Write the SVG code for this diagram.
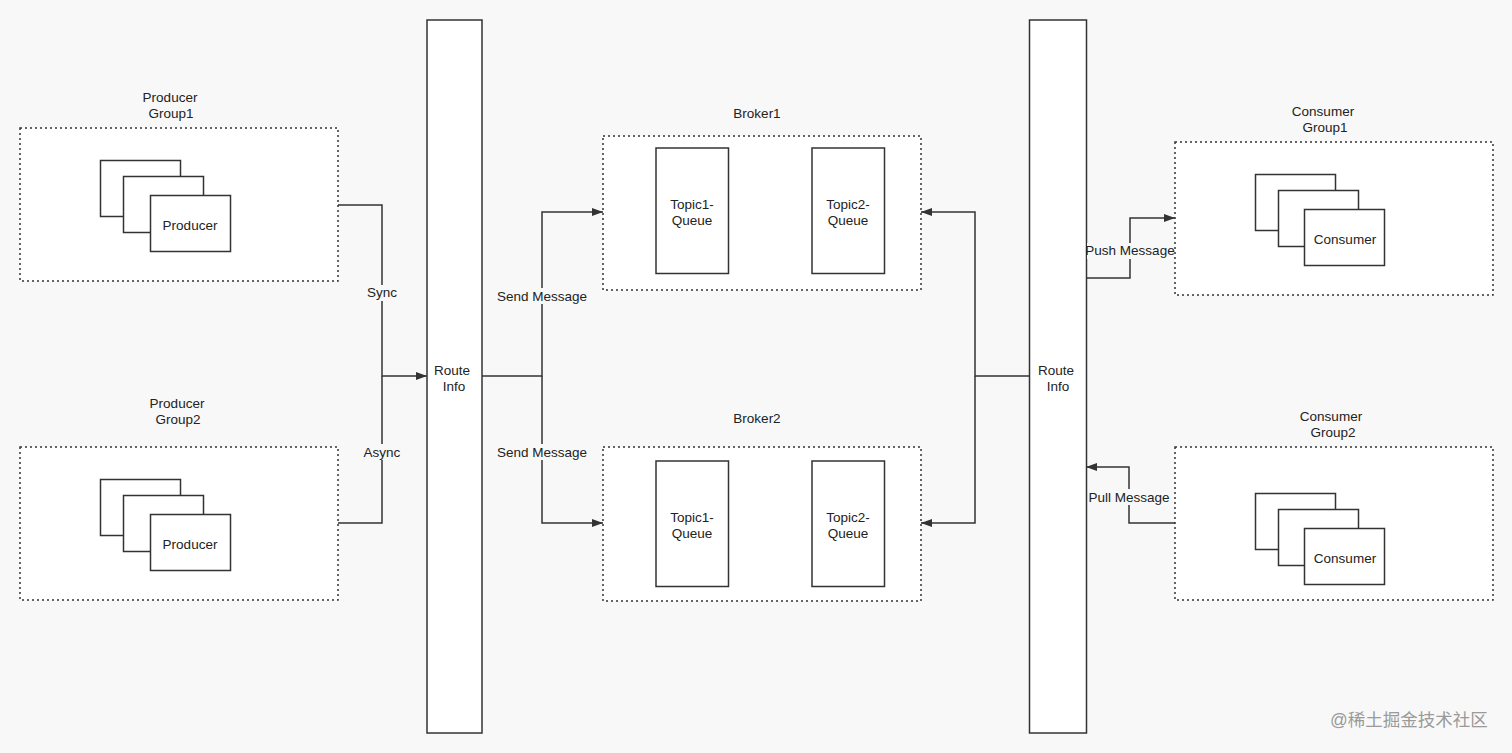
<svg xmlns="http://www.w3.org/2000/svg" width="1512" height="753" viewBox="0 0 1512 753">
<defs>
<marker id="arr" viewBox="0 0 11 8" refX="11" refY="4" markerWidth="11" markerHeight="8" markerUnits="userSpaceOnUse" orient="auto">
<path d="M0,0 L11,4 L0,8 Z" fill="#333"/>
</marker>
<style>
text{font-family:"Liberation Sans",Arial,Helvetica,sans-serif;font-size:13.5px;fill:#222;text-anchor:middle}
.grp{fill:#fff;stroke:#333;stroke-width:1.5;stroke-dasharray:2 3}
.box{fill:#fff;stroke:#333;stroke-width:1.5}
.ln{fill:none;stroke:#333;stroke-width:1.5}
.lbg{fill:#f8f8f8}
.wm{fill:#9a9a9a;font-size:17.5px;font-family:"Liberation Sans","Noto Sans CJK SC",sans-serif;text-anchor:start}
</style>
</defs>
<rect width="1512" height="753" fill="#f8f8f8"/>

<g id="producer-group1">
<rect class="grp" x="20" y="128" width="318" height="153"/>
<text x="170" y="102">Producer</text>
<text x="171" y="118">Group1</text>
<rect class="box" x="100.5" y="160.5" width="80" height="56"/>
<rect class="box" x="123.5" y="176.5" width="80" height="56"/>
<rect class="box" x="150.5" y="195.5" width="80" height="56"/>
<text x="190" y="230">Producer</text>
</g>

<g id="producer-group2">
<rect class="grp" x="20" y="447" width="318" height="153"/>
<text x="177" y="408">Producer</text>
<text x="178" y="424">Group2</text>
<rect class="box" x="100.5" y="479.5" width="80" height="56"/>
<rect class="box" x="123.5" y="495.5" width="80" height="56"/>
<rect class="box" x="150.5" y="514.5" width="80" height="56"/>
<text x="190" y="549">Producer</text>
</g>

<g id="route-info-1">
<rect class="box" x="427" y="20" width="55" height="713"/>
<text x="452" y="375">Route</text>
<text x="454" y="391">Info</text>
</g>

<g id="route-info-2">
<rect class="box" x="1029.5" y="20" width="57" height="713"/>
<text x="1056" y="375">Route</text>
<text x="1058" y="391">Info</text>
</g>

<g id="broker1">
<rect class="grp" x="603" y="136" width="318" height="154"/>
<text x="757" y="118">Broker1</text>
<rect class="box" x="656" y="148" width="72.5" height="125.5"/>
<text x="692" y="209">Topic1-</text>
<text x="692" y="225">Queue</text>
<rect class="box" x="812" y="148" width="72.5" height="125.5"/>
<text x="848" y="209">Topic2-</text>
<text x="848" y="225">Queue</text>
</g>

<g id="broker2">
<rect class="grp" x="603" y="447" width="318" height="154"/>
<text x="757" y="423">Broker2</text>
<rect class="box" x="656" y="461" width="72.5" height="125.5"/>
<text x="692" y="522">Topic1-</text>
<text x="692" y="538">Queue</text>
<rect class="box" x="812" y="461" width="72.5" height="125.5"/>
<text x="848" y="522">Topic2-</text>
<text x="848" y="538">Queue</text>
</g>

<g id="consumer-group1">
<rect class="grp" x="1175" y="142" width="318" height="153"/>
<text x="1323" y="116">Consumer</text>
<text x="1325" y="132">Group1</text>
<rect class="box" x="1255.5" y="174.5" width="80" height="56"/>
<rect class="box" x="1278.5" y="190.5" width="80" height="56"/>
<rect class="box" x="1304.5" y="209.5" width="80" height="56"/>
<text x="1345" y="244">Consumer</text>
</g>

<g id="consumer-group2">
<rect class="grp" x="1175" y="447" width="318" height="153"/>
<text x="1331" y="421">Consumer</text>
<text x="1333" y="437">Group2</text>
<rect class="box" x="1255.5" y="493.5" width="80" height="56"/>
<rect class="box" x="1278.5" y="509.5" width="80" height="56"/>
<rect class="box" x="1304.5" y="528.5" width="80" height="56"/>
<text x="1345" y="563">Consumer</text>
</g>

<g id="connectors">
<path class="ln" d="M338,205 H382 V376 H427" marker-end="url(#arr)"/>
<path class="ln" d="M338,523 H382 V376"/>
<path class="ln" d="M482,376 H542 V212 H603" marker-end="url(#arr)"/>
<path class="ln" d="M542,376 V523 H603" marker-end="url(#arr)"/>
<path class="ln" d="M1029,376 H975 V212 H921" marker-end="url(#arr)"/>
<path class="ln" d="M975,376 V523 H921" marker-end="url(#arr)"/>
<path class="ln" d="M1086,278 H1130 V218 H1175" marker-end="url(#arr)"/>
<path class="ln" d="M1175,523 H1129 V467 H1086" marker-end="url(#arr)"/>
<rect class="lbg" x="365" y="285" width="34" height="16"/>
<text x="382" y="297">Sync</text>
<rect class="lbg" x="362" y="444" width="40" height="16"/>
<text x="382" y="457">Async</text>
<rect class="lbg" x="496" y="288" width="92" height="16"/>
<text x="542" y="301">Send Message</text>
<rect class="lbg" x="1087" y="243" width="87" height="16"/>
<text x="1130" y="255">Push Message</text>
<rect class="lbg" x="496" y="444" width="92" height="16"/>
<text x="542" y="457">Send Message</text>
<rect class="lbg" x="1088" y="489" width="83" height="16"/>
<text x="1129" y="502">Pull Message</text>
</g>

<text class="wm" x="1330" y="726">@稀土掘金技术社区</text>
</svg>
